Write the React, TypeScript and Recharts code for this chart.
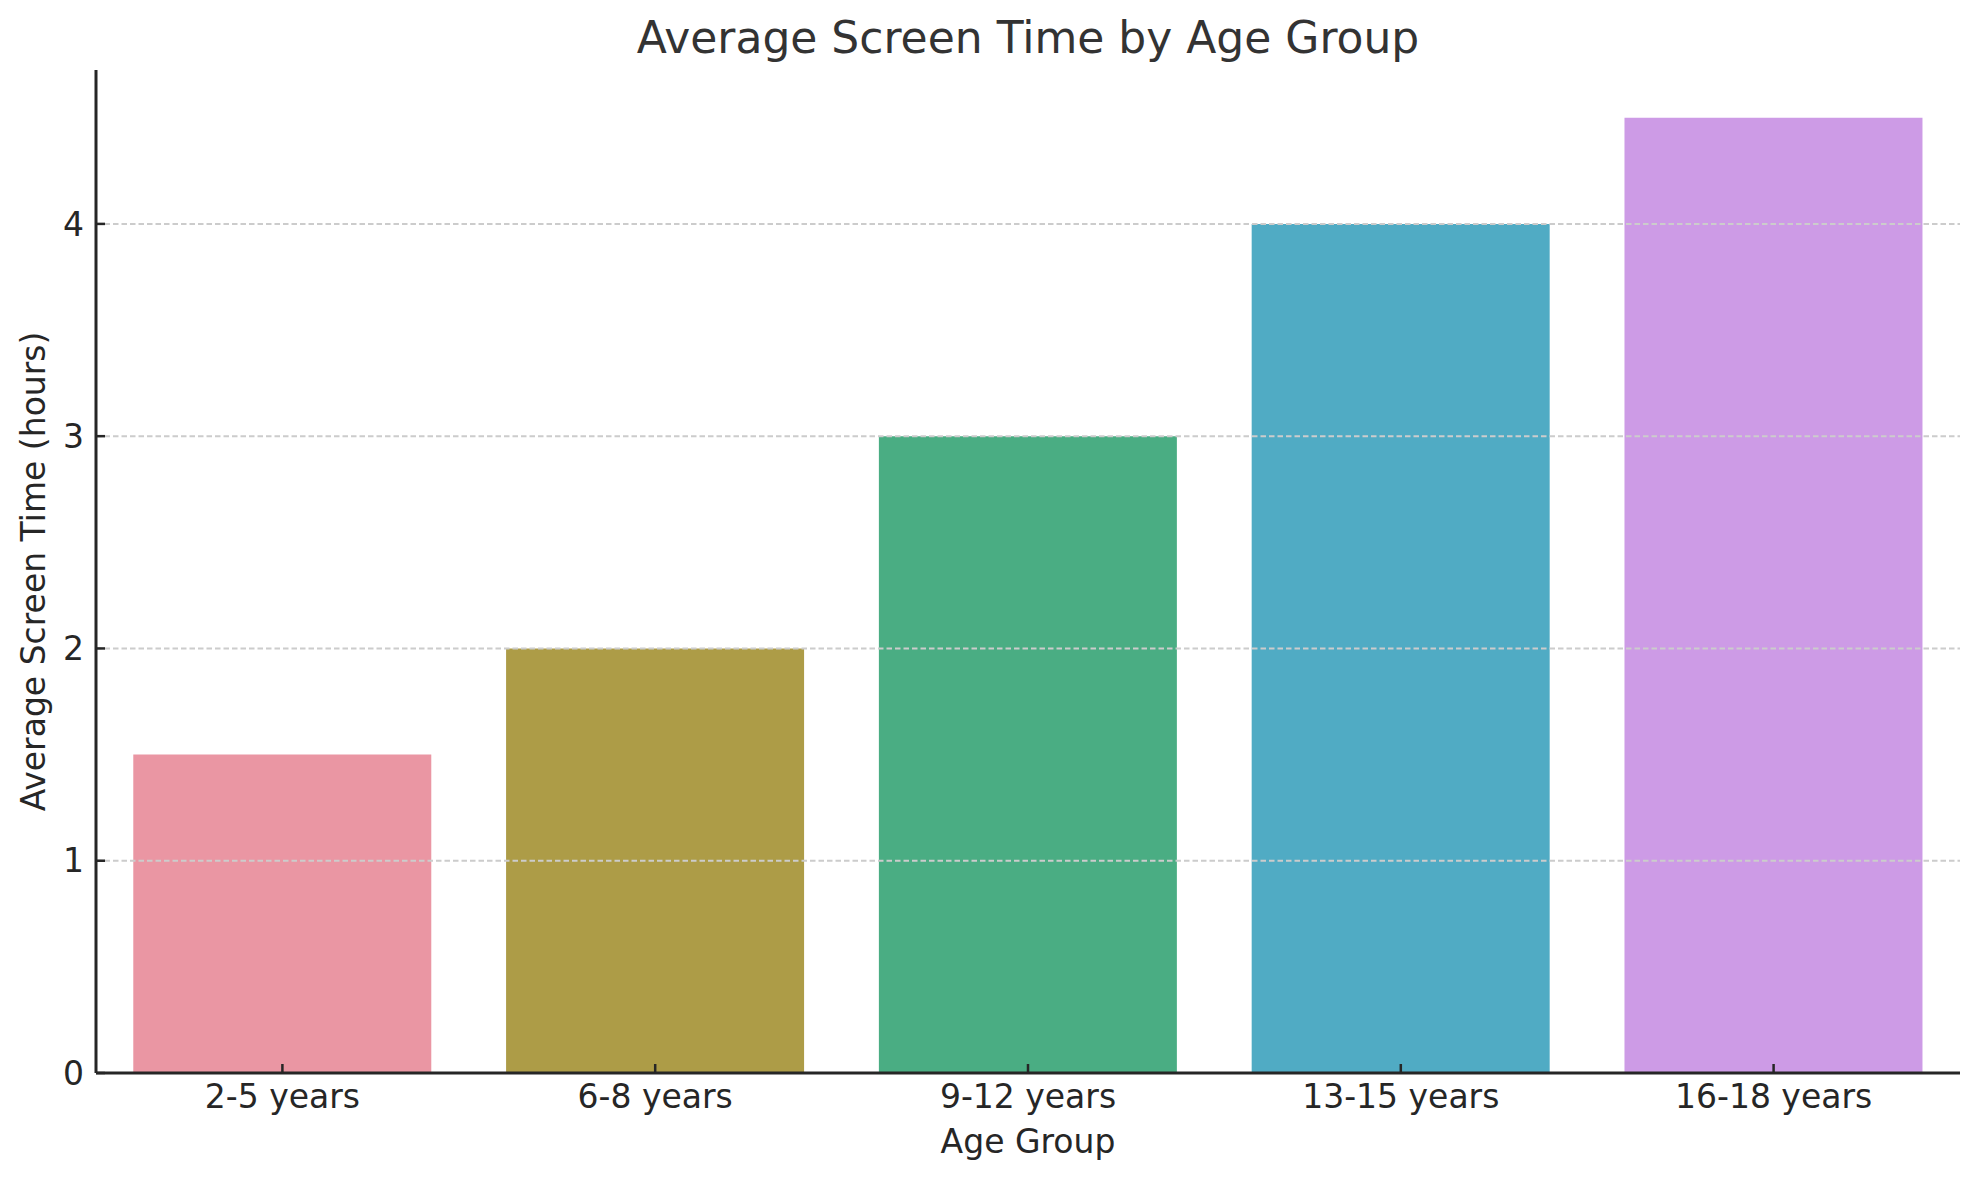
import { Bar, BarChart, Cell, Label, ReferenceLine, Text, XAxis, YAxis } from 'recharts';

const ageGroups = ['2-5 years', '6-8 years', '9-12 years', '13-15 years', '16-18 years'];
const screenHours = [1.5, 2, 3, 4, 4.5];
const barColors = ['#ea96a3', '#ad9c47', '#4aad83', '#50abc4', '#cd9be6'];
const yTicks = [0, 1, 2, 3, 4];
const gridValues = [1, 2, 3, 4];
const yMax = 4.725;

const FONT = '"DejaVu Sans", sans-serif';
const INK = '#262626';
const TICK_MARGIN = 12;
const TICK_LEN = 9;

const rows = ageGroups.map((group, i) => ({ group, hours: screenHours[i] }));

function XTick({ x, y, payload }: any) {
  const axisY = y - TICK_MARGIN;
  return (
    <g>
      <line x1={x} x2={x} y1={axisY} y2={axisY - TICK_LEN} stroke={INK} strokeWidth={2.5} />
      <Text x={x} y={y} textAnchor="middle" verticalAnchor="start" fill={INK} fontSize={33} fontFamily={FONT}>
        {payload.value}
      </Text>
    </g>
  );
}

function YTick({ x, y, payload }: any) {
  const axisX = x + TICK_MARGIN;
  return (
    <g>
      <line x1={axisX} x2={axisX + TICK_LEN} y1={y} y2={y} stroke={INK} strokeWidth={2.5} />
      <Text x={x} y={y} textAnchor="end" verticalAnchor="middle" fill={INK} fontSize={33} fontFamily={FONT}>
        {payload.value}
      </Text>
    </g>
  );
}

export default function App() {
  return (
    <div style={{ position: 'absolute', left: 0, top: 0, width: 1979, height: 1180, background: '#fff' }}>
      <div
        style={{
          position: 'absolute',
          left: 96,
          width: 1864,
          top: 12,
          textAlign: 'center',
          fontFamily: FONT,
          fontSize: 44,
          color: '#333333',
          whiteSpace: 'nowrap',
        }}
      >
        Average Screen Time by Age Group
      </div>
      <BarChart
        width={1979}
        height={1180}
        data={rows}
        margin={{ top: 70, right: 19, bottom: 7, left: 0 }}
        barCategoryGap="10%"
      >
        <XAxis
          dataKey="group"
          height={100}
          tickSize={0}
          tickLine={false}
          tickMargin={TICK_MARGIN}
          tick={<XTick />}
          axisLine={{ stroke: INK, strokeWidth: 3 }}
          interval={0}
        >
          <Label value="Age Group" position="insideBottom" offset={20} fill={INK} fontSize={33} fontFamily={FONT} />
        </XAxis>
        <YAxis
          width={96}
          domain={[0, yMax]}
          ticks={yTicks}
          allowDataOverflow
          tickSize={0}
          tickLine={false}
          tickMargin={TICK_MARGIN}
          tick={<YTick />}
          axisLine={{ stroke: INK, strokeWidth: 3 }}
        >
          <Label
            value="Average Screen Time (hours)"
            position="insideLeft"
            angle={-90}
            offset={33}
            fill={INK}
            fontSize={33}
            fontFamily={FONT}
            style={{ textAnchor: 'middle' }}
          />
        </YAxis>
        <Bar dataKey="hours" isAnimationActive={false}>
          {rows.map((row, i) => (
            <Cell key={row.group} fill={barColors[i]} />
          ))}
        </Bar>
        {gridValues.map((v) => (
          <ReferenceLine key={v} y={v} stroke="#cccccc" strokeWidth={2} strokeDasharray="5.5 3" />
        ))}
      </BarChart>
    </div>
  );
}
